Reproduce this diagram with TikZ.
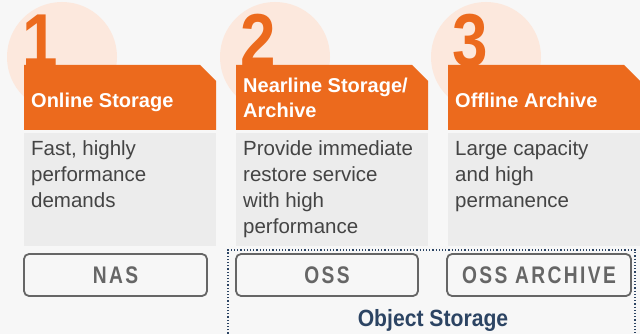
\documentclass[tikz,border=0pt]{standalone}
\usepackage{fontspec}
\setmainfont{Liberation Sans}
\newfontfamily\numfont[FakeStretch=0.85]{Liberation Sans Bold}
\newfontfamily\btnfont[FakeStretch=0.8,LetterSpace=10]{Liberation Sans Bold}
\newfontfamily\headfont{Liberation Sans Bold}
\newfontfamily\objfont[FakeStretch=0.9]{Liberation Sans Bold}
\definecolor{bgc}{HTML}{F7F7F7}
\definecolor{orng}{HTML}{EC6A1D}
\definecolor{peach}{HTML}{FCE8DD}
\definecolor{bodyc}{HTML}{ECECEC}
\definecolor{txtc}{HTML}{444444}
\definecolor{btnc}{HTML}{666666}
\definecolor{navy}{HTML}{2C4463}
\tikzset{
  numtxt/.style={anchor=base west,inner sep=0,text=orng,font=\numfont\fontsize{75}{75}\selectfont},
  headtxt/.style={anchor=base west,inner sep=0,text=white,font=\headfont\fontsize{20}{25}\selectfont},
  bodytxt/.style={anchor=base west,inner sep=0,text=txtc,font=\fontsize{20.5}{25}\selectfont},
  btnbox/.style={draw=btnc,line width=1.8pt,rounded corners=5pt,inner sep=0},
  btntxt/.style={text=btnc,font=\btnfont\fontsize{24}{24}\selectfont,inner sep=0},
}
\begin{document}
\begin{tikzpicture}[x=1pt,y=-1pt]
\useasboundingbox (0,0) rectangle (640,334);
\fill[bgc] (0,0) rectangle (640,334);
% circles
\fill[peach] (62,57) circle (55);
\fill[peach] (275,57) circle (55);
\fill[peach] (486,57) circle (55);
% numbers
\node[numtxt] (n1) at (22,67) {1};
\node[numtxt] (n2) at (240,67) {2};
\node[numtxt] (n3) at (452,67) {3};
% headers
\fill[orng] (24,65) -- (200,65) -- (216,81) -- (216,130) -- (24,130) -- cycle;
\fill[orng] (236,65) -- (412,65) -- (428,81) -- (428,130) -- (236,130) -- cycle;
\fill[orng] (448,65) -- (624,65) -- (640,81) -- (640,130) -- (448,130) -- cycle;
\node[headtxt] (h1) at (31,108) {Online Storage};
\node[headtxt] (h2a) at (243,93) {Nearline Storage/};
\node[headtxt] (h2b) at (243,118) {Archive};
\node[headtxt] (h3) at (455,108) {Offline Archive};
% bodies
\fill[bodyc] (24,133) rectangle (216,246);
\fill[bodyc] (236,133) rectangle (428,246);
\fill[bodyc] (448,133) rectangle (640,246);
\node[bodytxt] (b1a) at (31,156) {Fast, highly};
\node[bodytxt] (b1b) at (31,182) {performance};
\node[bodytxt] (b1c) at (31,207) {demands};
\node[bodytxt] (b2a) at (243,156) {Provide immediate};
\node[bodytxt] (b2b) at (243,182) {restore service};
\node[bodytxt] (b2c) at (243,207) {with high};
\node[bodytxt] (b2d) at (243,233) {performance};
\node[bodytxt] (b3a) at (455,156) {Large capacity};
\node[bodytxt] (b3b) at (455,182) {and high};
\node[bodytxt] (b3c) at (455,207) {permanence};
% object storage group
\draw[navy,dotted,line width=1.2pt] (228,340) -- (228,250) -- (635,250) -- (635,340);
% buttons
\node[btnbox,minimum width=183pt,minimum height=42pt] (nas) at (115.5,275) {};
\node[btnbox,minimum width=182pt,minimum height=42pt] (oss) at (327,275) {};
\node[btnbox,minimum width=184pt,minimum height=42pt] (ossa) at (539,275) {};
\node[btntxt] (nast) at (nas.center) {NAS};
\node[btntxt] (osst) at (oss.center) {OSS};
\node[btntxt] (ossat) at (ossa.center) {OSS ARCHIVE};
\node[anchor=base,inner sep=0,text=navy,font=\objfont\fontsize{23.5}{23.5}\selectfont] (objs) at (433,326) {Object Storage};
\end{tikzpicture}
\end{document}
